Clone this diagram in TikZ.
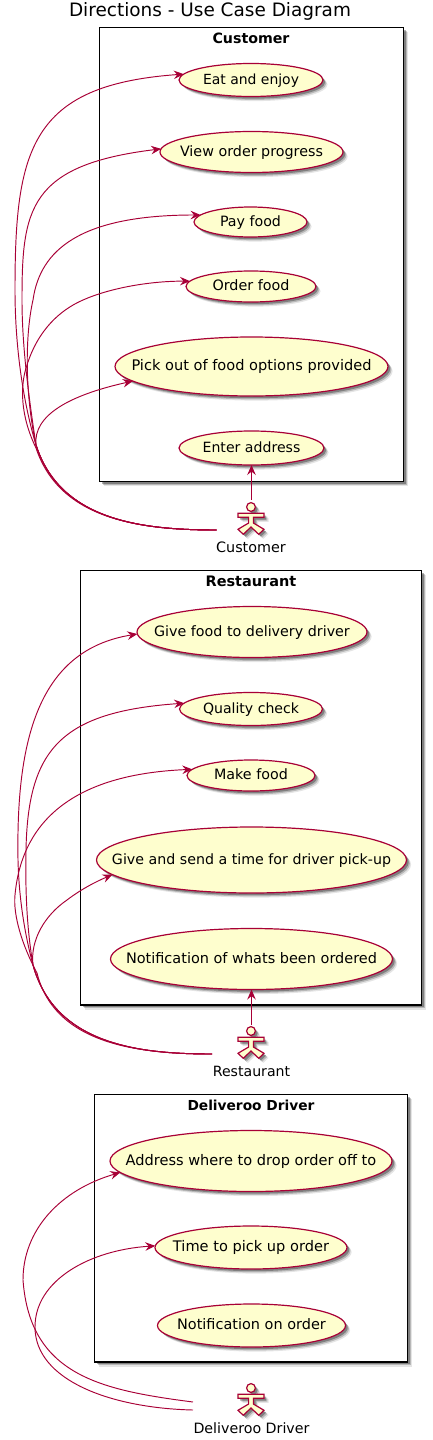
\documentclass[tikz,border=0pt]{standalone}
\usepackage{fontspec}
\setmainfont{DejaVu Sans}
\usetikzlibrary{shapes.geometric,shadows,arrows.meta}
\definecolor{umlred}{HTML}{A80036}
\definecolor{umlfill}{HTML}{FEFECE}
\newcommand\fitw[2]{\resizebox{#1pt}{!}{#2}}
\newcommand\uct[2]{\makebox[0pt][c]{\resizebox{#1pt}{!}{#2}}}
\tikzset{
  softshadow/.style={
    drop shadow={shadow xshift=4.6pt,shadow yshift=-4.6pt,fill=black,opacity=.10},
    drop shadow={shadow xshift=3.4pt,shadow yshift=-3.4pt,fill=black,opacity=.20},
    drop shadow={shadow xshift=2.2pt,shadow yshift=-2.2pt,fill=black,opacity=.30}},
  uc/.style={ellipse,draw=umlred,fill=umlfill,line width=1.2pt,inner sep=0pt,outer sep=0pt,
    font=\fontsize{14}{16}\selectfont,text height=11.6pt,text depth=3pt,softshadow},
  sysbox/.style={rectangle,draw=black,fill=white,line width=1.5pt,inner sep=0pt,outer sep=0pt,softshadow},
  boxtitle/.style={font=\fontsize{14}{16}\selectfont\bfseries,inner sep=0pt,text=black},
  actorlabel/.style={font=\fontsize{14}{16}\selectfont,inner sep=0pt,text=black},
  actorbox/.style={rectangle,inner sep=0pt,outer sep=0pt},
  conn/.style={draw=umlred,line width=.95pt,-{Stealth[length=10pt,width=8.5pt,inset=3.5pt]}},
  actorfig/.pic={
    \path[draw=umlred,fill=umlfill,line width=1.2pt,softshadow]
      (0,0) circle[radius=4.4pt];
    \path[draw=umlred,fill=umlfill,line width=1.2pt,softshadow]
      (-13,6.3) -- (13,6.3) -- (13,10.3) -- (2.4,10.3) -- (2.4,16) -- (13,22.3) -- (7.7,27.3)
      -- (0,20) -- (-7.7,27.3) -- (-13,22.3) -- (-2.4,16) -- (-2.4,10.3) -- (-13,10.3) -- cycle;
  }
}
\begin{document}
\begin{tikzpicture}[x=1pt,y=-1pt]
\useasboundingbox (0,0) rectangle (432,1440);
\node[font=\fontsize{18}{20}\selectfont,inner sep=0pt] (title) at (210,11.5) {\fitw{282}{Directions - Use Case Diagram}};

% Customer
\node[sysbox,minimum width=304pt,minimum height=454pt] (custbox) at (251.5,254.5) {};
\node[boxtitle] (custtitle) at (251,38) {\fitw{77}{Customer}};
\node[uc,minimum width=144pt,minimum height=33pt] (eat) at (251,80) {\uct{96}{Eat and enjoy}};
\node[uc,minimum width=183pt,minimum height=41pt] (view) at (251.5,152) {\uct{143}{View order progress}};
\node[uc,minimum width=113pt,minimum height=30pt] (pay) at (250.5,222) {\uct{61}{Pay food}};
\node[uc,minimum width=130pt,minimum height=31pt] (order) at (251,286.5) {\uct{77}{Order food}};
\node[uc,minimum width=273pt,minimum height=59pt] (pick) at (251.5,366.5) {\uct{240}{Pick out of food options provided}};
\node[uc,minimum width=145pt,minimum height=34pt] (enter) at (251.5,448) {\uct{97.7}{Enter address}};
\pic at (251,507) {actorfig};
\node[actorbox,minimum width=70pt,minimum height=60pt] (cust) at (251.5,530) {};
\node[actorlabel] (custlabel) at (251,547) {\fitw{69.7}{Customer}};

% Restaurant
\node[sysbox,minimum width=341pt,minimum height=434.5pt] (restbox) at (251,787.75) {};
\node[boxtitle] (resttitle) at (251,581) {\fitw{90.7}{Restaurant}};
\node[uc,minimum width=230pt,minimum height=51pt] (givefood) at (252,632) {\uct{195.7}{Give food to delivery driver}};
\node[uc,minimum width=143pt,minimum height=33pt] (quality) at (251,709) {\uct{96}{Quality check}};
\node[uc,minimum width=128pt,minimum height=31pt] (make) at (251,775.5) {\uct{73.7}{Make food}};
\node[uc,minimum width=310pt,minimum height=66pt] (send) at (251.5,860) {\uct{279}{Give and send a time for driver pick-up}};
\node[uc,minimum width=282pt,minimum height=61pt] (notif) at (251.5,959) {\uct{251}{Notification of whats been ordered}};
\pic at (251,1031) {actorfig};
\node[actorbox,minimum width=79pt,minimum height=58pt] (rest) at (251.5,1054) {};
\node[actorlabel] (restlabel) at (251.5,1071) {\fitw{77.3}{Restaurant}};

% Driver
\node[sysbox,minimum width=313pt,minimum height=267.5pt] (drvbox) at (251,1228.25) {};
\node[boxtitle] (drvtitle) at (251,1105) {\fitw{127}{Deliveroo Driver}};
\node[uc,minimum width=282pt,minimum height=61pt] (addr) at (251,1161) {\uct{250.7}{Address where to drop order off to}};
\node[uc,minimum width=192pt,minimum height=43pt] (pickup) at (251,1247.5) {\uct{156}{Time to pick up order}};
\node[uc,minimum width=188pt,minimum height=43pt] (ordnot) at (251.5,1325.5) {\uct{148.7}{Notification on order}};
\pic at (251,1388) {actorfig};
\node[actorbox,minimum width=117pt,minimum height=48pt] (drv) at (251.5,1406) {};
\node[actorlabel] (drvlabel) at (251.5,1428) {\fitw{116}{Deliveroo Driver}};

% Customer connectors
\draw[conn] (cust.north) -- (enter.south);
\draw[conn] (cust.west) .. controls (140,530) and (60,520) .. (36,445)
  .. controls (24,405) and (15,350) .. (15,290) .. controls (15,150) and (30,85) .. (eat.175);
\draw[conn] (cust.west) .. controls (140,530) and (60,520) .. (36,445)
  .. controls (30,405) and (22,350) .. (22,300) .. controls (22,210) and (28,165) .. (view.178);
\draw[conn] (cust.west) .. controls (140,530) and (60,520) .. (36,445)
  .. controls (26,400) and (24,340) .. (33,300) .. controls (40,250) and (80,215) .. (pay.172);
\draw[conn] (cust.west) .. controls (140,530) and (60,520) .. (36,448)
  .. controls (20,415) and (20,385) .. (27,365) .. controls (38,330) and (60,310) .. (83,300)
  .. controls (110,288) and (150,281) .. (order.175);
\draw[conn] (cust.west) .. controls (140,530) and (60,520) .. (36,445)
  .. controls (33,415) and (70,395) .. (pick.187);

% Restaurant connectors
\draw[conn] (rest.north) -- (notif.south);
\draw[conn] (rest.west) .. controls (140,1054) and (55,1045) .. (33,965)
  .. controls (25,935) and (19,900) .. (18,860) .. controls (16,740) and (38,650) .. (givefood.181.5);
\draw[conn] (rest.west) .. controls (140,1054) and (55,1045) .. (33,965)
  .. controls (28,935) and (25,900) .. (26,850) .. controls (28,750) and (60,712) .. (quality.175);
\draw[conn] (rest.west) .. controls (140,1054) and (55,1045) .. (37,973)
  .. controls (22,945) and (13,915) .. (15,895) .. controls (20,840) and (52,775) .. (make.174);
\draw[conn] (rest.west) .. controls (140,1054) and (55,1045) .. (33,965)
  .. controls (30,940) and (45,915) .. (67,900) .. controls (80,890) and (95,882) .. (send.186);

% Driver connectors
\draw[conn] ([yshift=4pt]drv.west) .. controls (100,1390) and (30,1375) .. (23,1280)
  .. controls (23,1230) and (60,1190) .. (addr.185);
\draw[conn] ([yshift=-4pt]drv.west) .. controls (110,1408) and (35,1380) .. (35,1327)
  .. controls (35,1280) and (90,1250) .. (pickup.179);
\end{tikzpicture}
\end{document}
